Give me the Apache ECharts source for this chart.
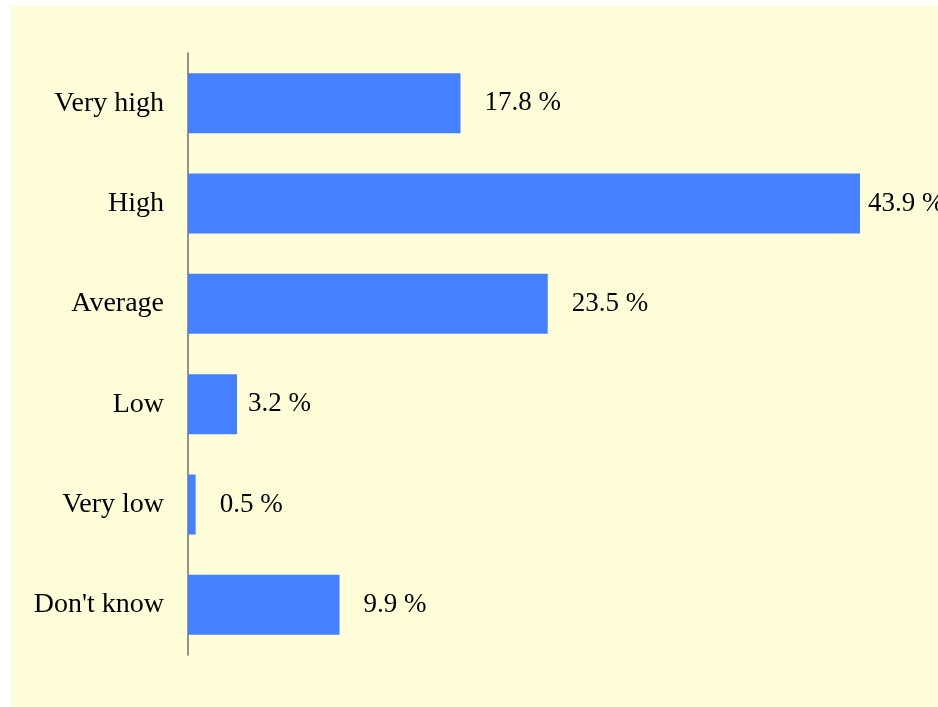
<!DOCTYPE html>
<html><head><meta charset="utf-8">
<script src="https://cdn.jsdelivr.net/npm/echarts@6/dist/echarts.min.js"></script>
<style>html,body{margin:0;padding:0;background:#fff}#c{width:938px;height:707px}</style>
</head><body><div id="c"></div>
<script>
const categories = ["Very high", "High", "Average", "Low", "Very low", "Don't know"];
const values = [17.8, 43.9, 23.5, 3.2, 0.5, 9.9];

const chart = echarts.init(document.getElementById('c'));
const font = '"Liberation Serif","Times New Roman",serif';
chart.setOption({
  animation: false,
  backgroundColor: '#ffffff',
  graphic: [{
    type: 'rect', z: -10, silent: true,
    shape: {x: 11, y: 6, width: 927, height: 701},
    style: {fill: '#FFFED8'}
  }],
  grid: {left: 188, right: 78, top: 53, bottom: 52, containLabel: false},
  xAxis: {
    type: 'value', min: 0, max: 'dataMax', show: false
  },
  yAxis: {
    type: 'category', data: categories, inverse: true,
    axisLine: {show: true, lineStyle: {color: '#707070', width: 1.5}},
    axisTick: {show: false},
    axisLabel: {color: '#000', fontFamily: font, fontSize: 28, margin: 24}
  },
  series: [{
    type: 'bar',
    data: values.map((v, i) => ({
      value: v,
      label: {distance: v > 40 ? 8 : (v > 1 && v < 5 ? 11 : 24)}
    })),
    barWidth: 60,
    itemStyle: {color: '#4580FF'},
    label: {
      show: true, position: 'right', color: '#000', fontFamily: font, fontSize: 27,
      formatter: p => p.value.toFixed(1) + ' %'
    }
  }]
});
</script></body></html>
